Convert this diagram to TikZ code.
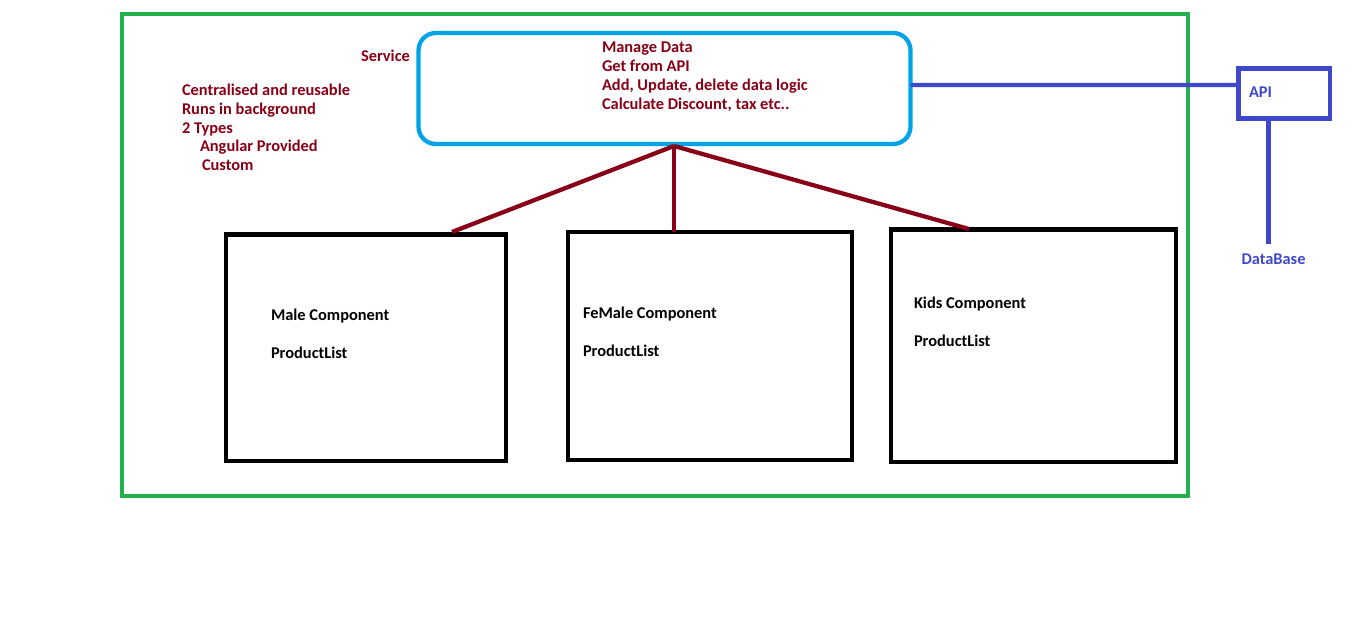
\documentclass[tikz,border=0pt]{standalone}
\usepackage{fontspec}
\setmainfont{Carlito}
\definecolor{pgreen}{HTML}{22B14C}
\definecolor{pblue}{HTML}{00A2E8}
\definecolor{pindigo}{HTML}{3F48CC}
\definecolor{pred}{HTML}{880015}
\begin{document}
\begin{tikzpicture}[x=0.75pt,y=-0.75pt,
  txt/.style={anchor=base west,inner sep=0pt,outer sep=0pt,font=\fontsize{12.3pt}{14.25pt}\selectfont\bfseries},
  redtxt/.style={txt,text=pred},
  comp/.style={draw=black,line width=3.2pt,inner sep=0pt,outer sep=0pt,anchor=north west},
  link/.style={draw=pred,line width=3.2pt},
  apiline/.style={draw=pindigo,line width=3.2pt}
]
\useasboundingbox (0,0) rectangle (1360,628);
% outer green frame
\node[draw=pgreen,line width=3pt,inner sep=0pt,outer sep=0pt,anchor=north west,
  minimum width=1066*0.75pt,minimum height=481.5*0.75pt] (frame) at (121.5,14) {};
% service box
\node[draw=pblue,line width=3.2pt,rounded corners=13pt,inner sep=0pt,outer sep=0pt,anchor=north west,
  minimum width=492*0.75pt,minimum height=111*0.75pt] (svc) at (418.5,33) {};
\node[redtxt] (s1) at (602,52) {Manage Data};
\node[redtxt] (s2) at (602,71) {Get from API};
\node[redtxt] (s3) at (602,90) {Add, Update, delete data logic};
\node[redtxt] (s4) at (602,109) {Calculate Discount, tax etc..};
\node[redtxt] (svclabel) at (361,61) {Service};
\node[redtxt] (n1) at (182,95) {Centralised and reusable};
\node[redtxt] (n2) at (182,114) {Runs in background};
\node[redtxt] (n3) at (182,133) {2 Types};
\node[redtxt] (n4) at (200,151) {Angular Provided};
\node[redtxt] (n5) at (202,170) {Custom};
% components
\node[comp,minimum width=280*0.75pt,minimum height=226.5*0.75pt] (male) at (226,234.5) {};
\node[comp,minimum width=284*0.75pt,minimum height=228*0.75pt] (female) at (568,232) {};
\node[comp,minimum width=285*0.75pt,minimum height=232.5*0.75pt] (kids) at (891,229.5) {};
\node[txt] (maletxt) at (271,320) {Male Component};
\node[txt] (malepl) at (271,358) {ProductList};
\node[txt] (femaletxt) at (583,318) {FeMale Component};
\node[txt] (femalepl) at (583,356) {ProductList};
\node[txt] (kidstxt) at (914,308) {Kids Component};
\node[txt] (kidspl) at (914,346) {ProductList};
% connectors service -> components
\coordinate (hub) at (674,146);
\draw[link] (hub) -- (452,232);
\draw[link] (hub) -- (female.north -| hub);
\draw[link] (hub) -- (969,229);
% API
\node[draw=pindigo,line width=3.2pt,inner sep=0pt,outer sep=0pt,anchor=north west,
  minimum width=91.5*0.75pt,minimum height=50*0.75pt] (api) at (1238.5,68.5) {};
\node[txt,text=pindigo] (apitxt) at (1249,97) {API};
\node[txt,text=pindigo] (db) at (1241.5,264) {DataBase};
\draw[apiline] ([yshift=2.6pt]svc.east) -- ([yshift=6.4pt]api.west);
\coordinate (dbend) at (1268.5,244);
\draw[apiline] (api.south -| dbend) -- (dbend);
\end{tikzpicture}
\end{document}
